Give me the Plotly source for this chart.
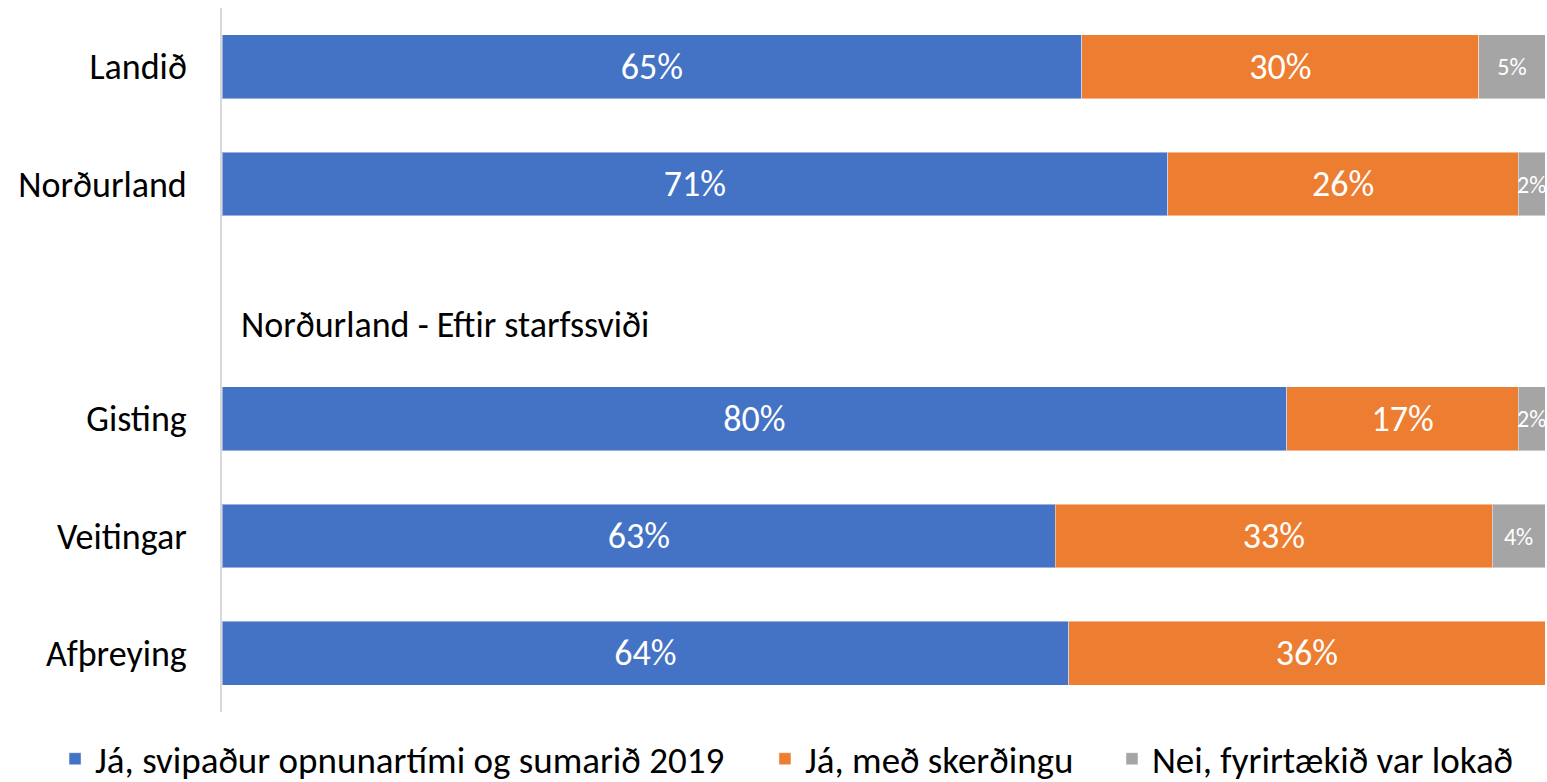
import plotly.graph_objects as go

categories = ["Landið", "Norðurland", "Norðurland - Eftir starfssviði", "Gisting", "Veitingar", "Afþreying"]
tick_labels = ["Landið", "Norðurland", "", "Gisting", "Veitingar", "Afþreying"]
section_title = "Norðurland - Eftir starfssviði"

series_names = ["Já, svipaður opnunartími og sumarið 2019", "Já, með skerðingu", "Nei, fyrirtækið var lokað"]
similar = [0.650, 0.7149, None, 0.8049, 0.630, 0.640]
reduced = [0.300, 0.2649, None, 0.1749, 0.330, 0.360]
closed = [0.050, 0.0202, None, 0.0202, 0.040, None]

colors = ["#4472C4", "#ED7D31", "#A5A5A5"]
text_sizes = [36, 36, 24]
legend_ids = ["legend", "legend2", "legend3"]
legend_x = [-0.1262, 0.4104, 0.6727]
FONT = "Carlito, Lato, sans-serif"

fig = go.Figure()
for name, vals, col, ts, lid in zip(series_names, [similar, reduced, closed], colors, text_sizes, legend_ids):
    fig.add_trace(go.Bar(
        y=categories, x=vals, name=name, orientation="h", legend=lid,
        marker=dict(color=col, line=dict(width=1, color="rgba(255,255,255,0.45)")),
        texttemplate="%{x:.0%}", textposition="inside", insidetextanchor="middle",
        constraintext="none", cliponaxis=False, textangle=0,
        textfont=dict(color="white", size=ts, family=FONT),
        hoverinfo="skip",
    ))

fig.add_annotation(x=0, y=section_title, xref="x", yref="y", text=section_title,
                   showarrow=False, xanchor="left", xshift=17, yshift=-24,
                   font=dict(size=36, color="black", family=FONT))

legend_common = dict(orientation="h", xref="paper", yref="paper", y=-0.023,
                     xanchor="left", yanchor="top", font=dict(size=37, family=FONT, color="black"),
                     bgcolor="rgba(0,0,0,0)")
legends = {lid: dict(legend_common, x=lx) for lid, lx in zip(legend_ids, legend_x)}

fig.update_layout(
    width=1547, height=782,
    barmode="stack", bargap=0.455,
    plot_bgcolor="white", paper_bgcolor="white",
    margin=dict(l=222, r=2, t=8, b=70, autoexpand=False),
    font=dict(family=FONT, color="black"),
    showlegend=True,
    xaxis=dict(range=[0, 1], showgrid=False, zeroline=False, showticklabels=False,
               showline=False, fixedrange=True),
    yaxis=dict(autorange="reversed", tickvals=categories, ticktext=tick_labels,
               showgrid=False, zeroline=False, showline=True, linecolor="#D9D9D9", linewidth=2,
               ticks="", ticklabelstandoff=26, tickfont=dict(size=36, color="black", family=FONT)),
    **legends,
)

fig.write_html("out.html", config={"displayModeBar": False},
               post_script="document.body.style.margin='0';document.body.style.overflow='hidden';")
